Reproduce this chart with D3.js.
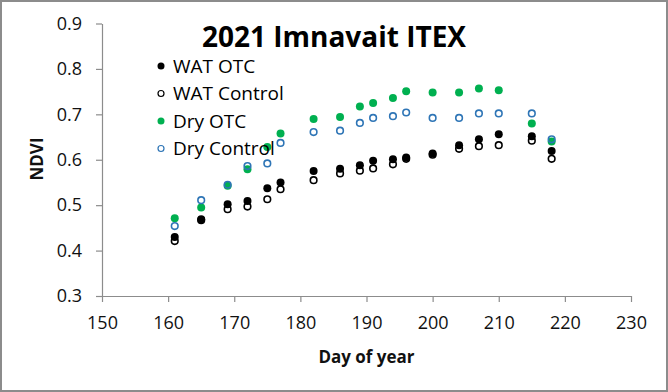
<!DOCTYPE html>
<html><head><meta charset="utf-8">
<script src="https://cdn.jsdelivr.net/npm/d3@7"></script>
<style>
html,body{margin:0;padding:0;background:#fff;}
svg{display:block;}
</style></head>
<body>
<svg id="chart" width="668" height="392"></svg>
<script>
const days = [161,165,169,172,175,177,182,186,189,191,194,196,200,204,207,210,215,218];
const watOTC     = [0.430,0.469,0.502,0.509,0.537,0.550,0.575,0.580,0.588,0.598,0.601,0.605,0.614,0.632,0.645,0.656,0.652,0.619];
const watControl = [0.421,0.467,0.491,0.497,0.513,0.535,0.555,0.570,0.576,0.581,0.590,0.602,0.611,0.624,0.630,0.632,0.642,0.602];
const dryOTC     = [0.471,0.495,0.543,0.579,0.628,0.658,0.690,0.694,0.717,0.725,0.736,0.751,0.748,0.748,0.757,0.753,0.680,0.640];
const dryControl = [0.454,0.511,0.545,0.586,0.592,0.637,0.661,0.664,0.681,0.692,0.696,0.704,0.692,0.692,0.702,0.702,0.702,0.645];
const xTicks = [150,160,170,180,190,200,210,220,230];
const yTicks = [0.3,0.4,0.5,0.6,0.7,0.8,0.9];
const seriesNames = ["WAT OTC","WAT Control","Dry OTC","Dry Control"];
const seriesValues = [watOTC, watControl, dryOTC, dryControl];
const seriesColors = ["#000000","#000000","#00b050","#2e75b6"];
const seriesFilled = [true,false,true,false];

const svg = d3.select("#chart");
const W = 668, H = 392;
svg.append("rect").attr("x",1).attr("y",1).attr("width",W-2).attr("height",H-2)
  .attr("fill","#fff").attr("stroke","#8c8c8c").attr("stroke-width",2);

const x = d3.scaleLinear().domain([150,230]).range([102,631]);
const y = d3.scaleLinear().domain([0.3,0.9]).range([296,23.5]);
const axisColor = "#8c8c8c";
const font = "'Open Sans', sans-serif";

const gx = svg.append("g").attr("transform","translate(0,296)")
  .call(d3.axisBottom(x).tickValues(xTicks).tickFormat(d3.format("d")).tickSize(6).tickSizeOuter(0).tickPadding(14));
const gy = svg.append("g").attr("transform","translate(102,0)")
  .call(d3.axisLeft(y).tickValues(yTicks).tickFormat(d3.format(".1f")).tickSize(6).tickSizeOuter(0).tickPadding(14));
[gx,gy].forEach(g=>{
  g.select(".domain").attr("stroke",axisColor).attr("stroke-width",1.2);
  g.selectAll(".tick line").attr("stroke",axisColor).attr("stroke-width",1.2);
  g.selectAll(".tick text").attr("fill","#111").style("font-family",font).style("font-size","18px");
});
gy.selectAll(".tick text").style("font-size","18px");

// axis titles
svg.append("text").attr("x",366.5).attr("y",363).attr("text-anchor","middle")
  .style("font-family",font).style("font-weight","bold").style("font-size","17px").attr("fill","#111").text("Day of year");
svg.append("text").attr("transform","translate(43,159) rotate(-90)").attr("text-anchor","middle")
  .style("font-family",font).style("font-weight","bold").style("font-size","17px").attr("fill","#111").text("NDVI");

// title
svg.append("text").attr("x",334).attr("y",46.5).attr("text-anchor","middle")
  .style("font-family",font).style("font-weight","bold").style("font-size","28px").attr("fill","#000").text("2021 Imnavait ITEX");

// points
seriesValues.forEach((vals,i)=>{
  const g = svg.append("g");
  g.selectAll("circle").data(days.map((d,j)=>({d, v: vals[j]}))).join("circle")
    .attr("cx",p=>x(p.d)).attr("cy",p=>y(p.v))
    .attr("r", seriesFilled[i] ? 4 : 3.3)
    .attr("fill", seriesFilled[i] ? seriesColors[i] : "none")
    .attr("stroke", seriesColors[i])
    .attr("stroke-width", seriesFilled[i] ? 0 : 1.6);
});

// legend
const legendY = [66,93.5,121,148.5];
seriesNames.forEach((name,i)=>{
  svg.append("circle").attr("cx",161).attr("cy",legendY[i])
    .attr("r", seriesFilled[i] ? 3.5 : 3)
    .attr("fill", seriesFilled[i] ? seriesColors[i] : "none")
    .attr("stroke", seriesColors[i]).attr("stroke-width", seriesFilled[i]?0:1.2);
  svg.append("text").attr("x",173).attr("y",legendY[i]).attr("dy","0.35em")
    .style("font-family",font).style("font-size","19px").attr("fill","#000").text(name);
});
</script>
</body></html>
